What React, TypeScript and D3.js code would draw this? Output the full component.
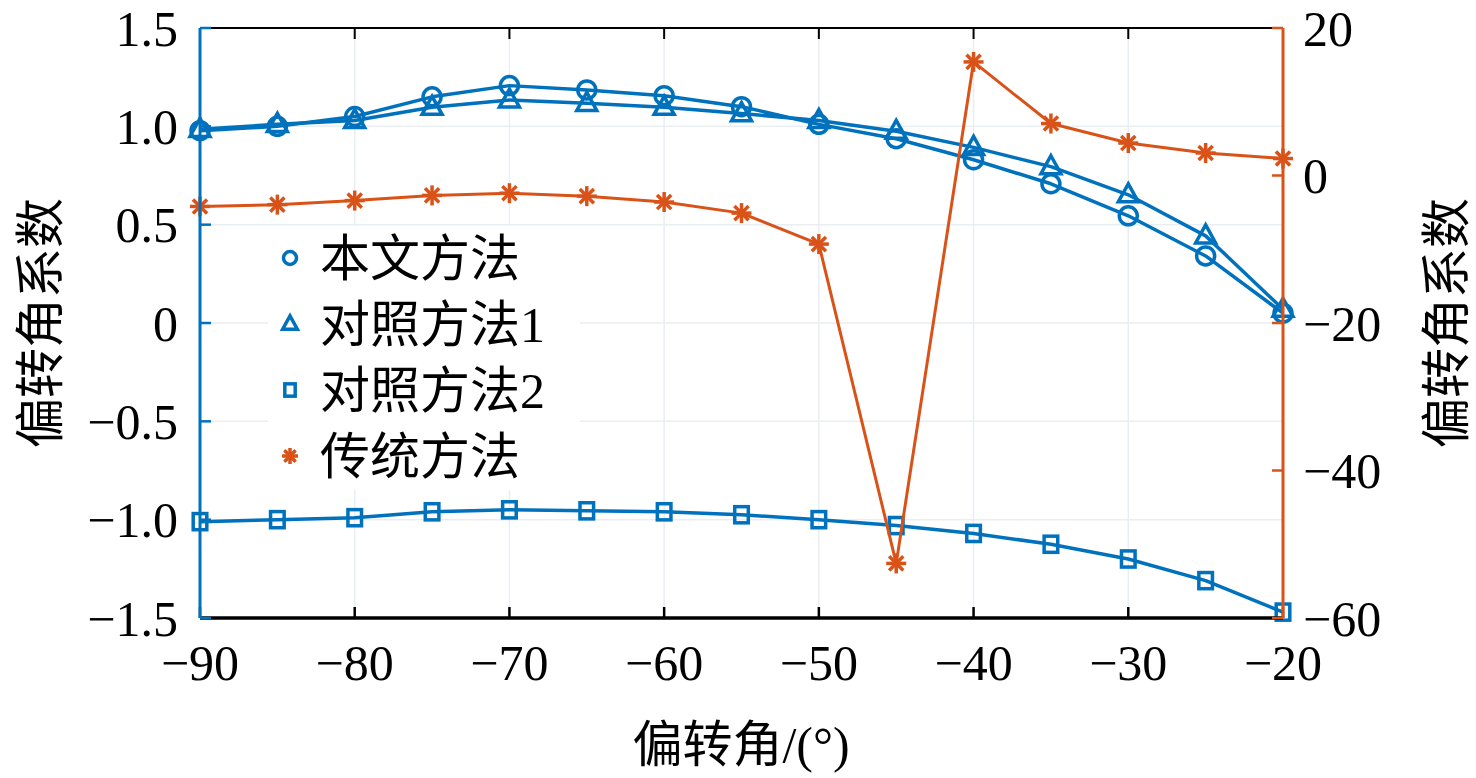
import { line, scaleLinear } from 'd3'

const angles = [-90, -85, -80, -75, -70, -65, -60, -55, -50, -45, -40, -35, -30, -25, -20]
const oursValues = [0.978, 1.0, 1.05, 1.15, 1.207, 1.185, 1.156, 1.1, 1.01, 0.937, 0.83, 0.708, 0.545, 0.341, 0.05]
const control1Values = [0.985, 1.01, 1.03, 1.097, 1.134, 1.117, 1.097, 1.065, 1.03, 0.975, 0.893, 0.795, 0.652, 0.443, 0.07]
const control2Values = [-1.01, -1.0, -0.99, -0.96, -0.95, -0.955, -0.96, -0.975, -1.0, -1.03, -1.07, -1.125, -1.2, -1.31, -1.47]
const traditionalValues = [-4.2, -3.95, -3.4, -2.7, -2.4, -2.8, -3.6, -5.1, -9.3, -52.6, 15.4, 7.05, 4.4, 3.05, 2.3]

const xTicks = [-90, -80, -70, -60, -50, -40, -30, -20]
const leftTicks = [1.5, 1.0, 0.5, 0, -0.5, -1.0, -1.5]
const rightTicks = [20, 0, -20, -40, -60]
const legendLabels = ['本文方法', '对照方法1', '对照方法2', '传统方法']

const width = 1476
const height = 778
const plot = { left: 200, right: 1283, top: 28, bottom: 618 }

const blue = '#0072BD'
const orange = '#D95319'
const gridColor = '#e9eef2'
const numFont = '"Liberation Serif", "DejaVu Serif", serif'
const cjkFont = '"Liberation Serif", "Noto Sans CJK SC", serif'

const fmtLeft = (v: number) => {
  if (v === 0) return '0'
  const s = Math.abs(v).toFixed(1)
  return v < 0 ? `\u2212${s}` : s
}
const fmtInt = (v: number) => (v < 0 ? `\u2212${Math.abs(v)}` : `${v}`)

type MarkerKind = 'circle' | 'triangle' | 'square' | 'star'

function Marker({ kind, x, y, size, color }: { kind: MarkerKind; x: number; y: number; size: number; color: string }) {
  if (kind === 'circle') {
    return <circle cx={x} cy={y} r={size} fill="none" stroke={color} strokeWidth={3.5} />
  }
  if (kind === 'triangle') {
    const h = size * 1.15
    return (
      <path
        d={`M${x},${y - h} L${x + size * 1.05},${y + h * 0.65} L${x - size * 1.05},${y + h * 0.65} Z`}
        fill="none"
        stroke={color}
        strokeWidth={3.5}
        strokeLinejoin="miter"
      />
    )
  }
  if (kind === 'square') {
    const w = size * 0.8
    const hh = size * 0.95
    return <rect x={x - w} y={y - hh} width={w * 2} height={hh * 2} fill="none" stroke={color} strokeWidth={3.5} />
  }
  const spokes = [0, 45, 90, 135]
  return (
    <g stroke={color} strokeWidth={3.5}>
      {spokes.map((a) => {
        const r = (a * Math.PI) / 180
        const dx = Math.cos(r) * size
        const dy = Math.sin(r) * size
        return <line key={a} x1={x - dx} y1={y - dy} x2={x + dx} y2={y + dy} />
      })}
    </g>
  )
}

function App() {
  const xScale = scaleLinear().domain([-90, -20]).range([plot.left, plot.right])
  const yLeft = scaleLinear().domain([-1.5, 1.5]).range([plot.bottom, plot.top])
  const yRight = scaleLinear().domain([-60, 20]).range([plot.bottom, plot.top])

  const series = [
    { values: oursValues, scale: yLeft, color: blue, kind: 'circle' as MarkerKind, size: 9, width: 3.5 },
    { values: control1Values, scale: yLeft, color: blue, kind: 'triangle' as MarkerKind, size: 9.5, width: 3.5 },
    { values: control2Values, scale: yLeft, color: blue, kind: 'square' as MarkerKind, size: 8.5, width: 3.5 },
    { values: traditionalValues, scale: yRight, color: orange, kind: 'star' as MarkerKind, size: 10, width: 3 },
  ]

  const legendY = [258, 324, 390, 456]
  const legendSizes = [6.5, 7, 6.5, 8]

  return (
    <div style={{ position: 'absolute', left: 0, top: 0 }}>
      <svg width={width} height={height} viewBox={`0 0 ${width} ${height}`} style={{ display: 'block', background: '#fff' }}>
        {/* grid */}
        {xTicks.map((t) => (
          <line key={`gx${t}`} x1={xScale(t)} x2={xScale(t)} y1={plot.top} y2={plot.bottom} stroke={gridColor} strokeWidth={1.5} />
        ))}
        {leftTicks.map((t) => (
          <line key={`gy${t}`} x1={plot.left} x2={plot.right} y1={yLeft(t)} y2={yLeft(t)} stroke={gridColor} strokeWidth={1.5} />
        ))}

        {/* series */}
        {series.map((s, i) => {
          const path = line<number>()
            .x((_, j) => xScale(angles[j]))
            .y((d) => s.scale(d))(s.values)
          return (
            <g key={i}>
              <path d={path ?? ''} fill="none" stroke={s.color} strokeWidth={s.width} strokeLinejoin="round" />
              {s.values.map((v, j) => (
                <Marker key={j} kind={s.kind} x={xScale(angles[j])} y={s.scale(v)} size={s.size} color={s.color} />
              ))}
            </g>
          )
        })}

        {/* axes */}
        <line x1={plot.left} x2={plot.right} y1={plot.top} y2={plot.top} stroke="#000" strokeWidth={2} />
        <line x1={plot.left} x2={plot.right} y1={plot.bottom} y2={plot.bottom} stroke="#000" strokeWidth={3.5} />
        {xTicks.map((t) => (
          <g key={`xt${t}`}>
            <line x1={xScale(t)} x2={xScale(t)} y1={plot.bottom} y2={plot.bottom - 11} stroke="#000" strokeWidth={2.5} />
            <line x1={xScale(t)} x2={xScale(t)} y1={plot.top} y2={plot.top + 11} stroke="#000" strokeWidth={2} />
            <text x={xScale(t)} y={plot.bottom + 62} textAnchor="middle" fontFamily={numFont} fontSize={50} fill="#000">
              {fmtInt(t)}
            </text>
          </g>
        ))}

        <line x1={plot.left} x2={plot.left} y1={plot.top} y2={plot.bottom} stroke={blue} strokeWidth={3} />
        {leftTicks.map((t) => (
          <g key={`lt${t}`}>
            <line x1={plot.left} x2={plot.left + 11} y1={yLeft(t)} y2={yLeft(t)} stroke={blue} strokeWidth={2.5} />
            <text x={plot.left - 22} y={yLeft(t)} dy="0.35em" textAnchor="end" fontFamily={numFont} fontSize={50} fill="#000">
              {fmtLeft(t)}
            </text>
          </g>
        ))}

        <line x1={plot.right} x2={plot.right} y1={plot.top} y2={plot.bottom} stroke={orange} strokeWidth={3} />
        {rightTicks.map((t) => (
          <g key={`rt${t}`}>
            <line x1={plot.right} x2={plot.right - 11} y1={yRight(t)} y2={yRight(t)} stroke={orange} strokeWidth={2.5} />
            <text x={plot.right + 20} y={yRight(t)} dy="0.35em" textAnchor="start" fontFamily={numFont} fontSize={50} fill="#000">
              {fmtInt(t)}
            </text>
          </g>
        ))}

        {/* axis titles */}
        <text x={741} y={762} textAnchor="middle" fontFamily={cjkFont} fontSize={50} fill="#000">
          偏转角/(°)
        </text>
        <text transform={`translate(40, ${(plot.top + plot.bottom) / 2}) rotate(-90)`} dy="0.35em" textAnchor="middle" fontFamily={cjkFont} fontSize={50} fill="#000">
          偏转角系数
        </text>
        <text transform={`translate(1446, ${(plot.top + plot.bottom) / 2}) rotate(-90)`} dy="0.35em" textAnchor="middle" fontFamily={cjkFont} fontSize={50} fill="#000">
          偏转角系数
        </text>

        {/* legend */}
        <rect x={268} y={226} width={312} height={264} fill="#fff" />
        {series.map((s, i) => (
          <g key={`lg${i}`}>
            <Marker kind={s.kind} x={290} y={legendY[i]} size={legendSizes[i]} color={s.color} />
            <text x={320} y={legendY[i]} dy="0.36em" fontFamily={cjkFont} fontSize={50} fill="#000">
              {legendLabels[i]}
            </text>
          </g>
        ))}
      </svg>
    </div>
  )
}

export default App
